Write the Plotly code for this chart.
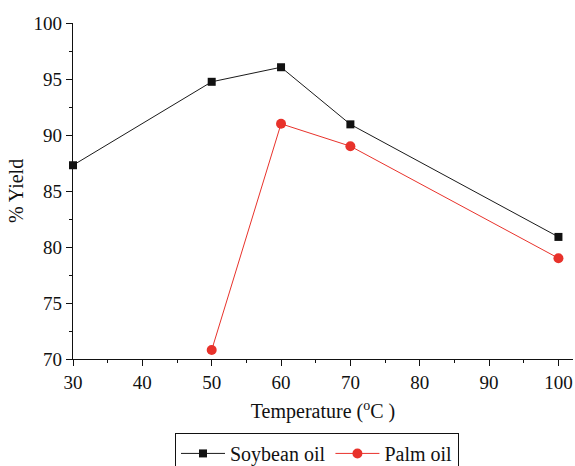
import plotly.graph_objects as go

temps_soy = [30, 50, 60, 70, 100]
yield_soy = [87.3, 94.75, 96.05, 90.95, 80.9]
temps_palm = [50, 60, 70, 100]
yield_palm = [70.8, 91.0, 89.0, 79.0]
x_ticks = [30, 40, 50, 60, 70, 80, 90, 100]
y_ticks = [70, 75, 80, 85, 90, 95, 100]

FONT = "Liberation Serif"

fig = go.Figure()
fig.add_trace(go.Scatter(
    x=temps_soy, y=yield_soy, name="Soybean oil", mode="lines+markers",
    line=dict(color="#1a1a1a", width=1),
    marker=dict(symbol="square", size=8, color="#111111"),
    cliponaxis=False,
))
fig.add_trace(go.Scatter(
    x=temps_palm, y=yield_palm, name="Palm oil", mode="lines+markers",
    line=dict(color="#e8322b", width=1),
    marker=dict(symbol="circle", size=10, color="#e8322b"),
    cliponaxis=False,
))

fig.update_layout(
    width=575, height=466,
    margin=dict(l=73, r=2, t=23, b=107, autoexpand=False),
    paper_bgcolor="white", plot_bgcolor="white",
    font=dict(family=FONT, size=18, color="#111111"),
    showlegend=True,
    legend=dict(
        orientation="h", x=0.204, y=-0.22, xanchor="left", yanchor="top",
        bordercolor="#111111", borderwidth=1,
        font=dict(family=FONT, size=20, color="#111111"),
        tracegroupgap=0, itemwidth=44,
    ),
    xaxis=dict(
        range=[30, 102.1], tickmode="array", tickvals=x_ticks,
        showline=True, linecolor="#111111", linewidth=1.3,
        ticks="outside", ticklen=6, tickcolor="#111111", tickwidth=1.3,
        minor=dict(ticks="outside", ticklen=3, dtick=5, tick0=30, tickcolor="#111111", tickwidth=1.3),
        showgrid=False, zeroline=False,
        tickfont=dict(family=FONT, size=19, color="#111111"),
        title=dict(text="Temperature (<sup>o</sup>C )", font=dict(family=FONT, size=20, color="#111111"), standoff=12),
        automargin=False,
    ),
    yaxis=dict(
        range=[70, 100], tickmode="array", tickvals=y_ticks,
        showline=True, linecolor="#111111", linewidth=1.3,
        ticks="outside", ticklen=6, tickcolor="#111111", tickwidth=1.3,
        minor=dict(ticks="outside", ticklen=3, dtick=2.5, tick0=70, tickcolor="#111111", tickwidth=1.3),
        showgrid=False, zeroline=False,
        tickfont=dict(family=FONT, size=19, color="#111111"),
        title=dict(text="% Yield", font=dict(family=FONT, size=20, color="#111111"), standoff=4),
        automargin=False,
    ),
)

fig.write_html("out.html")
